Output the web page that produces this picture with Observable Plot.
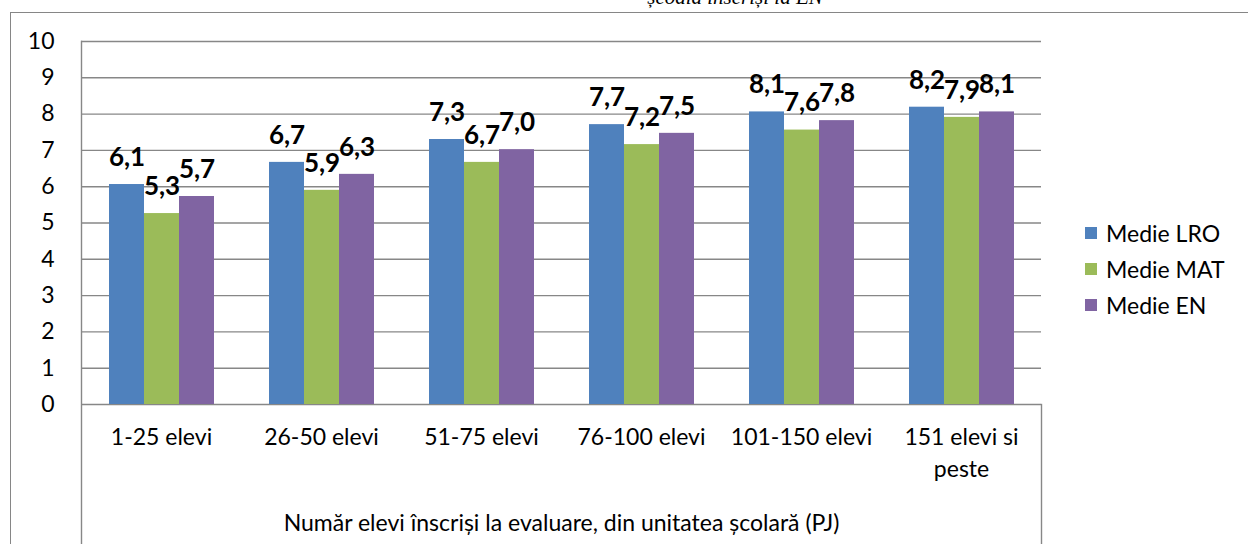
<!DOCTYPE html>
<html>
<head>
<meta charset="utf-8">
<script src="https://cdn.jsdelivr.net/npm/d3@7"></script>
<script src="https://cdn.jsdelivr.net/npm/@observablehq/plot@0.6"></script>
<style>
  html, body { margin: 0; padding: 0; background: #fff; }
  #wrap { position: relative; width: 1248px; height: 544px; overflow: hidden; font-family: Lato, "Open Sans", sans-serif; }
  #border { position: absolute; left: 10px; top: 12px; width: 1400px; height: 700px; border: 1.5px solid #868686; box-sizing: border-box; }
  #title { position: absolute; left: 0; width: 1470px; top: -13px; text-align: center; font-family: "Liberation Serif", serif; font-style: italic; font-size: 21px; line-height: 21px; color: #000; }
  #chart { position: absolute; left: 0; top: 0; }
  #legend { position: absolute; left: 1085px; top: 215px; font-size: 23px; color: #000; }
  .item { display: flex; align-items: center; height: 36px; }
  .sw { width: 12px; height: 12px; margin-right: 9px; }
</style>
</head>
<body>
<div id="wrap">
  <div id="border"></div>
  <div id="chart"></div>
  <div id="title">școala înscriși la EN</div>
  <div id="legend"></div>
</div>
<script>
// ---- data ----
const categories = ["1-25 elevi", "26-50 elevi", "51-75 elevi", "76-100 elevi", "101-150 elevi", "151 elevi si peste"];
const categoryLabels = ["1-25 elevi", "26-50 elevi", "51-75 elevi", "76-100 elevi", "101-150 elevi", "151 elevi si\npeste"];
const seriesNames = ["Medie LRO", "Medie MAT", "Medie EN"];
const medieLRO = [6.06, 6.67, 7.30, 7.71, 8.06, 8.19];
const medieMAT = [5.26, 5.90, 6.67, 7.16, 7.56, 7.91];
const medieEN  = [5.73, 6.34, 7.02, 7.47, 7.82, 8.06];
const yTicks = [0, 1, 2, 3, 4, 5, 6, 7, 8, 9, 10];
const xTitle = "Număr elevi înscriși la evaluare, din unitatea școlară (PJ)";
const colors = ["#4F81BD", "#9BBB59", "#8064A2"];

const seriesValues = [medieLRO, medieMAT, medieEN];
const rows = [];
categories.forEach((c, i) => seriesNames.forEach((s, j) => rows.push({cat: c, series: s, value: seriesValues[j][i]})));
const fmt = v => d3.format(".1f")(v).replace(".", ",");
const labelOf = new Map(categories.map((c, i) => [c, categoryLabels[i]]));
const grid = "#878787";
const font = "Lato, 'Open Sans', sans-serif";

const chart = Plot.plot({
  width: 1248,
  height: 544,
  marginLeft: 80,
  marginRight: 206,
  marginTop: 41,
  marginBottom: 140,
  style: {fontFamily: font, fontSize: "23px", color: "#000", background: "transparent"},
  fx: {domain: categories, padding: 0},
  x: {domain: seriesNames, paddingInner: 0, paddingOuter: 0.77, axis: null},
  y: {domain: [0, 10], axis: null},
  color: {domain: seriesNames, range: colors},
  marks: [
    Plot.ruleY(yTicks, {stroke: grid, strokeWidth: 1.4}),
    Plot.barY(rows, {fx: "cat", x: "series", y: "value", fill: "series"}),
    Plot.text(rows, {fx: "cat", x: "series", y: "value", text: d => fmt(d.value), dy: -27, fontWeight: "bold", fontSize: 26, fill: "#000"}),
    Plot.axisY(yTicks, {anchor: "left", tickSize: 0, tickPadding: 27, fontSize: 23, label: null, tickFormat: d => String(d)}),
    Plot.axisFx({anchor: "bottom", tickSize: 0, tickPadding: 18, fontSize: 23, lineHeight: 1.39, lineAnchor: "top",
      tickFormat: d => labelOf.get(d), label: xTitle, labelAnchor: "center", labelArrow: false, labelOffset: 126}),
    Plot.frame({anchor: "left", fx: [categories[0]], stroke: grid, strokeWidth: 1.4, insetBottom: -140}),
    Plot.frame({anchor: "right", fx: [categories[categories.length - 1]], stroke: grid, strokeWidth: 1.4, insetTop: 363, insetBottom: -140})
  ]
});
document.getElementById("chart").appendChild(chart);

const legend = document.getElementById("legend");
seriesNames.forEach((s, i) => {
  const it = document.createElement("div");
  it.className = "item";
  it.innerHTML = `<div class="sw" style="background:${colors[i]}"></div><span>${s}</span>`;
  legend.appendChild(it);
});
</script>
</body>
</html>
